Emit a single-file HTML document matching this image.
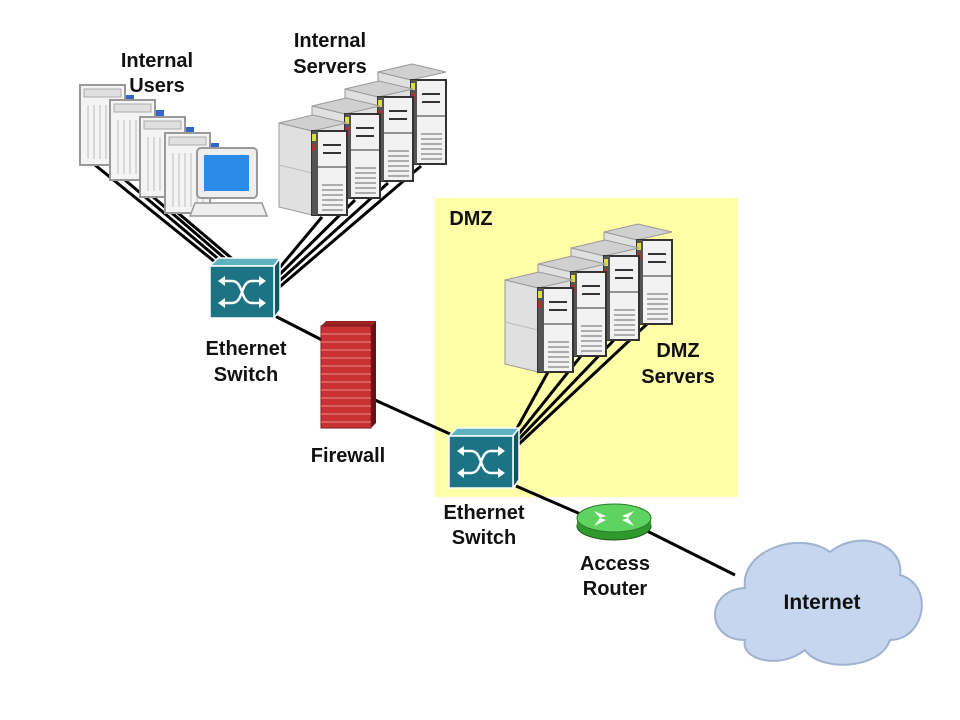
<!DOCTYPE html>
<html><head><meta charset="utf-8"><style>
html,body{margin:0;padding:0;background:#fff}
svg{display:block}
text{font-family:"Liberation Sans",Arial,sans-serif;font-weight:bold;font-size:20px;fill:#111;text-anchor:middle}
</style></head><body>
<svg width="960" height="720" viewBox="0 0 960 720" xmlns="http://www.w3.org/2000/svg">
<defs>
<g id="srv">
<polygon points="0,8 34,0 68,8 33,16" fill="#d0d0d0" stroke="#999"/>
<polygon points="0,8 33,16 33,100 0,92" fill="#e0e0e0" stroke="#999"/>
<line x1="0" y1="50" x2="33" y2="58" stroke="#bbb"/>
<rect x="33" y="16" width="35" height="84" fill="#f2f2f2" stroke="#333" stroke-width="2"/>
<rect x="33" y="16" width="6" height="84" fill="#555"/>
<rect x="33" y="19" width="4" height="7" fill="#dddd44"/>
<rect x="33" y="29" width="4" height="7" fill="#aa3333"/>
<line x1="44" y1="30" x2="62" y2="30" stroke="#333" stroke-width="2"/>
<line x1="44" y1="38" x2="62" y2="38" stroke="#333" stroke-width="2"/>
<line x1="39" y1="52" x2="68" y2="52" stroke="#333"/>
<g stroke="#666"><line x1="43" y1="70" x2="64" y2="70"/><line x1="43" y1="75" x2="64" y2="75"/><line x1="43" y1="80" x2="64" y2="80"/><line x1="43" y1="85" x2="64" y2="85"/><line x1="43" y1="90" x2="64" y2="90"/><line x1="43" y1="95" x2="64" y2="95"/></g>
</g>
<g id="pc">
<rect x="0" y="0" width="45" height="80" fill="#f4f4f4" stroke="#999" stroke-width="2"/>
<rect x="4" y="4" width="37" height="8" fill="#e0e0e0" stroke="#aaa"/>
<g stroke="#bbb"><line x1="8" y1="20" x2="8" y2="74"/><line x1="14" y1="20" x2="14" y2="74"/><line x1="20" y1="20" x2="20" y2="74"/><line x1="26" y1="20" x2="26" y2="74"/><line x1="32" y1="20" x2="32" y2="74"/><line x1="38" y1="20" x2="38" y2="74"/></g>
<rect x="46" y="10" width="8" height="10" fill="#3366cc"/>
</g>
<g id="sw">
<polygon points="0,8 8,0 70,0 64,8" fill="#5fb3bf" stroke="#fff" stroke-width="1.5"/>
<polygon points="64,8 70,0 70,52 64,60" fill="#0f5566" stroke="#fff" stroke-width="1.5"/>
<rect x="0" y="8" width="64" height="52" fill="#1b7384" stroke="#fff" stroke-width="1.5"/>
<g stroke="#fff" stroke-width="2.5" fill="none">
<path d="M10,23 H22 C34,23 30,45 42,45 H54"/>
<path d="M10,45 H22 C34,45 30,23 42,23 H54"/>
</g>
<g fill="#fff"><polygon points="8,23 15,18 15,28"/><polygon points="56,23 49,18 49,28"/><polygon points="8,45 15,40 15,50"/><polygon points="56,45 49,40 49,50"/></g>
</g>
</defs>

<rect x="435" y="198" width="303" height="299" fill="#ffffa8"/>

<g stroke="#000" stroke-width="3" fill="none">
<line x1="95" y1="165" x2="215" y2="262"/>
<line x1="125" y1="180" x2="222" y2="262"/>
<line x1="152" y1="196" x2="229" y2="262"/>
<line x1="178" y1="213" x2="236" y2="262"/>
<line x1="322" y1="217" x2="276" y2="272"/>
<line x1="355" y1="200" x2="276" y2="278"/>
<line x1="388" y1="183" x2="276" y2="284"/>
<line x1="421" y1="166" x2="276" y2="290"/>
<line x1="275" y1="316" x2="322" y2="340"/>
<line x1="375" y1="400" x2="450" y2="434"/>
<line x1="548" y1="372" x2="515" y2="432"/>
<line x1="581" y1="356" x2="517" y2="436"/>
<line x1="614" y1="340" x2="518" y2="440"/>
<line x1="647" y1="324" x2="519" y2="444"/>
<line x1="516" y1="486" x2="585" y2="516"/>
<line x1="645" y1="530" x2="735" y2="575"/>
</g>

<use href="#pc" x="80" y="85"/>
<use href="#pc" x="110" y="100"/>
<use href="#pc" x="140" y="117"/>
<use href="#pc" x="165" y="133"/>
<rect x="197" y="148" width="60" height="50" rx="4" fill="#eee" stroke="#999" stroke-width="2"/>
<rect x="204" y="155" width="45" height="36" fill="#2a8be8"/>
<polygon points="195,203 262,203 267,216 190,216" fill="#eee" stroke="#999" stroke-width="1.5"/>

<use href="#srv" x="378" y="64"/>
<use href="#srv" x="345" y="81"/>
<use href="#srv" x="312" y="98"/>
<use href="#srv" x="279" y="115"/>

<use href="#srv" x="604" y="224"/>
<use href="#srv" x="571" y="240"/>
<use href="#srv" x="538" y="256"/>
<use href="#srv" x="505" y="272"/>

<use href="#sw" x="210" y="258"/>
<use href="#sw" x="449" y="428"/>

<g>
<polygon points="321,326 326,321 376,321 371,326" fill="#992222"/>
<polygon points="371,326 376,321 376,423 371,428" fill="#6b1111"/>
<rect x="321" y="326" width="50" height="102" fill="#c83232" stroke="#7a1a1a"/>
<g stroke="#e88" stroke-width="1">
<path d="M321,334H371M321,342H371M321,350H371M321,358H371M321,366H371M321,374H371M321,382H371M321,390H371M321,398H371M321,406H371M321,414H371M321,422H371"/>
</g>
</g>

<ellipse cx="614" cy="526" rx="37" ry="14" fill="#2e9a2e" stroke="#1a5a1a"/>
<rect x="577" y="518" width="74" height="8" fill="#2e9a2e"/>
<ellipse cx="614" cy="518" rx="37" ry="14" fill="#5fd35f" stroke="#2a7a2a"/>
<g fill="#fff"><polygon points="594,511 606,516 600,518"/><polygon points="634,511 622,516 628,518"/><polygon points="594,526 606,520 600,518"/><polygon points="634,526 622,520 628,518"/></g>

<path d="M745,640 C705,640 705,590 745,588 C740,550 800,530 830,552 C860,528 905,545 900,575 C935,585 925,640 890,640 C880,670 820,672 805,650 C780,670 740,660 745,640 Z" fill="#c6d6ee" stroke="#9fb2d0" stroke-width="2"/>

<text x="157" y="67">Internal</text>
<text x="157" y="92">Users</text>
<text x="330" y="47">Internal</text>
<text x="330" y="73">Servers</text>
<text x="471" y="225">DMZ</text>
<text x="678" y="357">DMZ</text>
<text x="678" y="383">Servers</text>
<text x="246" y="355">Ethernet</text>
<text x="246" y="381">Switch</text>
<text x="348" y="462">Firewall</text>
<text x="484" y="519">Ethernet</text>
<text x="484" y="544">Switch</text>
<text x="615" y="570">Access</text>
<text x="615" y="595">Router</text>
<text x="822" y="609" style="font-size:21px">Internet</text>
</svg>
</body></html>
